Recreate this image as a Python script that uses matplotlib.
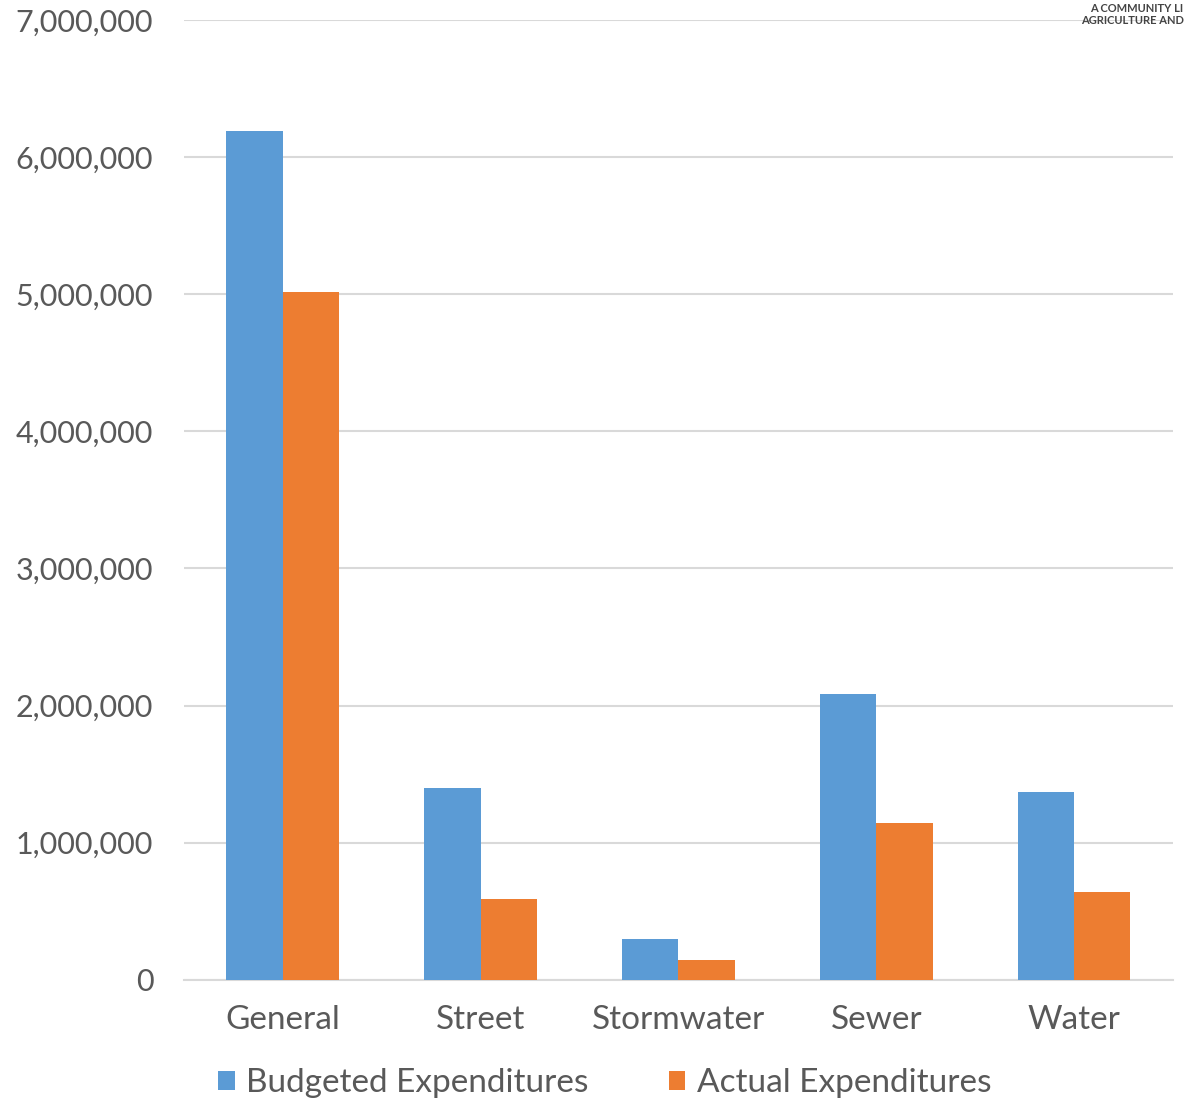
import matplotlib.pyplot as plt
import numpy as np
from matplotlib.ticker import FuncFormatter

plt.rcParams['font.family'] = ['Lato', 'DejaVu Sans']

# fund categories and expenditure values
funds = ['General', 'Street', 'Stormwater', 'Sewer', 'Water']
budgeted = [6190000, 1400000, 300000, 2085000, 1370000]
actual = [5015000, 590000, 145000, 1145000, 640000]

blue = '#5b9bd5'
orange = '#ed7d31'
grey = '#595959'

fig = plt.figure(figsize=(11.86, 11.01), dpi=100)
ax = fig.add_axes([0.155, 0.11, 0.834, 0.872])

x = np.arange(len(funds))
w = 0.285
ax.bar(x - w/2, budgeted, w, color=blue, label='Budgeted Expenditures', zorder=3)
ax.bar(x + w/2, actual, w, color=orange, label='Actual Expenditures', zorder=3)

ax.set_xlim(-0.5, len(funds) - 0.5)
ax.set_ylim(0, 7000000)
ax.set_yticks(np.arange(0, 7000001, 1000000))
ax.yaxis.set_major_formatter(FuncFormatter(lambda v, p: '{:,.0f}'.format(v)))
ax.set_xticks(x)
ax.set_xticklabels(funds)

ax.grid(axis='y', color='#d9d9d9', lw=1.5, zorder=0)
for s in ['top', 'right', 'left']:
    ax.spines[s].set_visible(False)
ax.spines['bottom'].set_color('#d9d9d9')
ax.spines['bottom'].set_linewidth(1.5)
ax.tick_params(axis='both', length=0, colors=grey)
ax.tick_params(axis='y', pad=22, labelsize=22)
ax.tick_params(axis='x', pad=18, labelsize=24)

leg = fig.legend(loc='center', bbox_to_anchor=(0.51, 0.016), ncol=2, frameon=False,
                 fontsize=24, handlelength=0.5, handleheight=0.5, handletextpad=0.35,
                 columnspacing=2.4)
for t in leg.get_texts():
    t.set_color(grey)

# faint watermark in the corner
fig.text(0.998, 0.997, 'A COMMUNITY LI', ha='right', va='top', fontsize=8,
         color='#444444', fontweight='bold')
fig.text(0.998, 0.986, 'AGRICULTURE AND', ha='right', va='top', fontsize=8,
         color='#444444', fontweight='bold')

fig.savefig('out.png')
